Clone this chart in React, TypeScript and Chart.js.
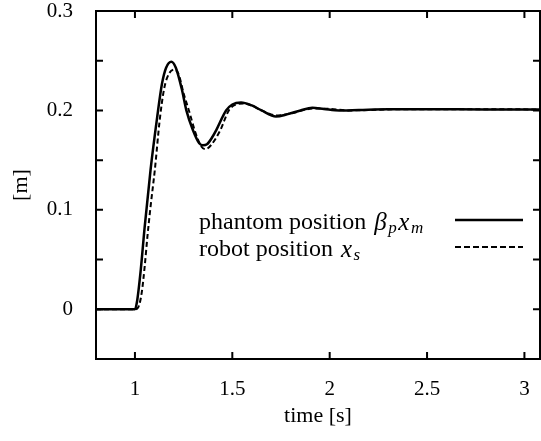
import React, { useEffect, useRef } from "react";
import { Chart, registerables } from "chart.js";

Chart.register(...registerables);

// Phantom position (beta_p * x_m)
const phantomTime = [0.8, 1.0, 1.01, 1.03, 1.05, 1.08, 1.114, 1.139, 1.16, 1.187, 1.21, 1.24, 1.264, 1.298, 1.33, 1.349, 1.37, 1.4, 1.417, 1.468, 1.5, 1.545, 1.6, 1.65, 1.724, 1.78, 1.85, 1.911, 1.97, 2.05, 2.15, 2.3, 2.5, 2.8, 3.08];
const phantomPos = [0, 0, 0.007, 0.04, 0.083, 0.14, 0.193, 0.227, 0.243, 0.249, 0.243, 0.222, 0.2, 0.18, 0.167, 0.165, 0.166, 0.174, 0.18, 0.2, 0.206, 0.208, 0.205, 0.2, 0.194, 0.196, 0.2, 0.2027, 0.2015, 0.2, 0.2005, 0.2012, 0.2012, 0.201, 0.201];

// Robot position (x_s)
const robotTime = [0.8, 1.0, 1.017, 1.035, 1.05, 1.064, 1.08, 1.102, 1.127, 1.15, 1.175, 1.204, 1.225, 1.25, 1.277, 1.31, 1.34, 1.363, 1.39, 1.438, 1.482, 1.52, 1.56, 1.6, 1.65, 1.73, 1.8, 1.92, 2.0, 2.1, 2.3, 2.6, 3.08];
const robotPos = [0, 0, 0.002, 0.017, 0.043, 0.073, 0.103, 0.14, 0.19, 0.222, 0.237, 0.241, 0.236, 0.217, 0.2, 0.178, 0.164, 0.161, 0.165, 0.18, 0.2, 0.206, 0.207, 0.205, 0.2, 0.195, 0.197, 0.202, 0.2015, 0.2, 0.201, 0.2013, 0.201];

const xTicks = [1, 1.5, 2, 2.5, 3];
const yTicks = [-0.05, 0, 0.05, 0.1, 0.15, 0.2, 0.25, 0.3];
const yTickLabels = [0, 0.1, 0.2, 0.3];

const SERIF = "'Liberation Serif', 'Times New Roman', serif";

const toPoints = (t: number[], v: number[]) => t.map((x, i) => ({ x, y: v[i] }));

// Frame with inward tick marks on all four sides
const framePlugin = {
  id: "frame",
  afterDraw(chart: any) {
    const { ctx, chartArea } = chart;
    const { left, right, top, bottom } = chartArea;
    const xs = chart.scales.x;
    const ys = chart.scales.y;
    const tl = 7;
    ctx.save();
    ctx.strokeStyle = "#000";
    ctx.lineWidth = 2;
    ctx.strokeRect(left, top, right - left, bottom - top);
    ctx.beginPath();
    xTicks.forEach((v) => {
      const px = xs.getPixelForValue(v);
      ctx.moveTo(px, bottom);
      ctx.lineTo(px, bottom - tl);
      ctx.moveTo(px, top);
      ctx.lineTo(px, top + tl);
    });
    yTicks.forEach((v) => {
      const py = ys.getPixelForValue(v);
      ctx.moveTo(left, py);
      ctx.lineTo(left + tl, py);
      ctx.moveTo(right, py);
      ctx.lineTo(right - tl, py);
    });
    ctx.stroke();
    ctx.restore();
  },
};

// Key inside the plot with math-italic symbols
const keyPlugin = {
  id: "key",
  afterDraw(chart: any) {
    const { ctx, chartArea } = chart;
    const textX = 199;
    const rows = [
      { y: 223, parts: [["phantom position ", "n"], ["β", "i"], ["p", "s"], ["x", "i"], ["m", "s"]], dash: [] as number[], width: 2.5 },
      { y: 250, parts: [["robot position ", "n"], ["x", "i"], ["s", "s"]], dash: [6, 3], width: 2 },
    ];
    ctx.save();
    ctx.fillStyle = "#000";
    ctx.textBaseline = "middle";
    rows.forEach((row) => {
      let x = textX;
      row.parts.forEach(([txt, kind]) => {
        if (kind === "n") ctx.font = `24px ${SERIF}`;
        else if (kind === "i") ctx.font = `italic 25px ${SERIF}`;
        else ctx.font = `italic 17px ${SERIF}`;
        const y = kind === "s" ? row.y + 6 : row.y;
        ctx.fillText(txt, x, y);
        x += ctx.measureText(txt).width + (kind === "n" ? 2 : 1.5);
      });
      ctx.beginPath();
      ctx.setLineDash(row.dash);
      ctx.lineWidth = row.width;
      ctx.strokeStyle = "#000";
      ctx.moveTo(455, row.y - 3);
      ctx.lineTo(chartArea.right - 17, row.y - 3);
      ctx.stroke();
    });
    ctx.restore();
  },
};

export default function App() {
  const canvasRef = useRef<HTMLCanvasElement | null>(null);

  useEffect(() => {
    const canvas = canvasRef.current;
    if (!canvas) return;
    const chart = new Chart(canvas, {
      type: "line",
      data: {
        datasets: [
          {
            label: "phantom position",
            data: toPoints(phantomTime, phantomPos),
            borderColor: "#000",
            borderWidth: 2.5,
            pointRadius: 0,
            cubicInterpolationMode: "monotone",
            fill: false,
          },
          {
            label: "robot position",
            data: toPoints(robotTime, robotPos),
            borderColor: "#000",
            borderWidth: 2,
            borderDash: [5, 3],
            pointRadius: 0,
            cubicInterpolationMode: "monotone",
            fill: false,
          },
        ],
      },
      options: {
        responsive: false,
        animation: false,
        layout: { padding: { top: 11, right: 1, left: 0, bottom: 0 } },
        plugins: { legend: { display: false }, tooltip: { enabled: false } },
        scales: {
          x: {
            type: "linear",
            min: 0.8,
            max: 3.08,
            grid: { display: false },
            border: { display: false },
            afterBuildTicks: (s: any) => {
              s.ticks = xTicks.map((value) => ({ value }));
            },
            afterFit: (s: any) => {
              s.height = 82;
              s.paddingLeft = 0;
              s.paddingRight = 0;
            },
            ticks: {
              color: "#000",
              font: { family: SERIF, size: 21 },
              padding: 10,
              maxRotation: 0,
              autoSkip: false,
              callback: (v: any) => String(v),
            },
            title: {
              display: true,
              text: "time [s]",
              color: "#000",
              font: { family: SERIF, size: 22 },
              padding: { top: 0, bottom: 12 },
            },
          },
          y: {
            type: "linear",
            min: -0.05,
            max: 0.3,
            grid: { display: false },
            border: { display: false },
            afterBuildTicks: (s: any) => {
              s.ticks = yTicks.map((value) => ({ value }));
            },
            afterFit: (s: any) => {
              s.width = 96;
              s.paddingTop = 0;
              s.paddingBottom = 0;
            },
            ticks: {
              color: "#000",
              font: { family: SERIF, size: 21 },
              padding: 15,
              autoSkip: false,
              callback: (v: any) => {
                const n = Number(v);
                const hit = yTickLabels.find((l) => Math.abs(l - n) < 1e-9);
                return hit === undefined ? "" : String(hit);
              },
            },
            title: {
              display: true,
              text: "[m]",
              color: "#000",
              font: { family: SERIF, size: 22 },
              padding: { top: 8, bottom: 0 },
            },
          },
        },
      },
      plugins: [framePlugin, keyPlugin],
    });
    return () => chart.destroy();
  }, []);

  return (
    <div style={{ position: "fixed", left: 0, top: 0, width: 541, height: 441, background: "#fff" }}>
      <canvas ref={canvasRef} width={541} height={441} style={{ width: 541, height: 441, display: "block" }} />
    </div>
  );
}
